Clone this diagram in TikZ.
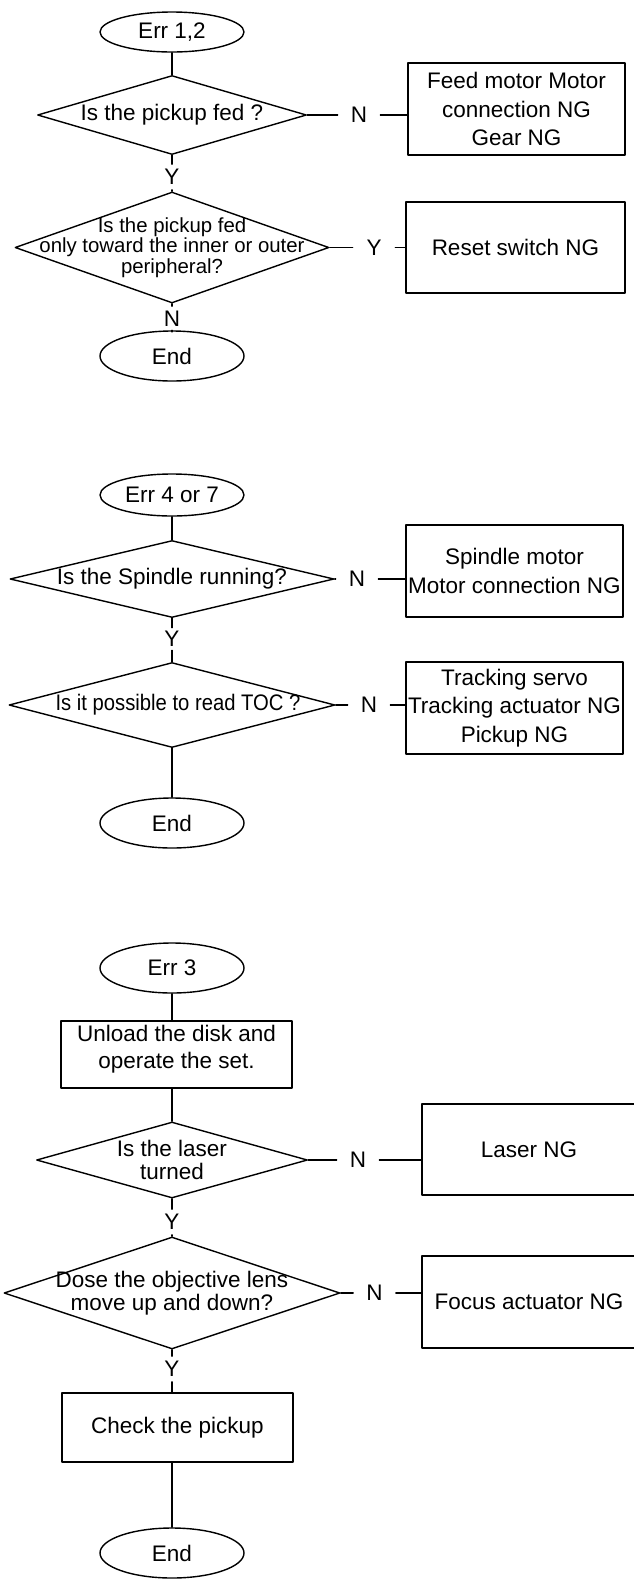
\documentclass[tikz,border=0pt]{standalone}
\usepackage{fontspec}
\setmainfont{Liberation Sans}
\usetikzlibrary{shapes.geometric}
\begin{document}
\begin{tikzpicture}[x=1cm,y=1cm,line cap=round,line join=round,
  terminal/.style={draw,ellipse,line width=0.8pt,minimum width=2.88cm,minimum height=1cm,inner sep=0pt,font=\fontsize{12.8}{15}\selectfont},
  decision/.style={draw,diamond,line width=0.8pt,inner sep=0pt},
  query/.style={align=center,inner sep=0pt,font=\fontsize{12.8}{13.1}\selectfont},
  process/.style={draw,rectangle,line width=0.8pt,inner sep=0pt,align=center,minimum width=4.34cm,minimum height=1.84cm,font=\fontsize{12.8}{16.2}\selectfont},
  tag/.style={inner sep=0pt,minimum width=0.84cm,minimum height=0.5cm,font=\fontsize{12.8}{15}\selectfont},
  link/.style={line width=0.8pt}]
  \useasboundingbox (0,0) rectangle (12.68,-31.74);

  \node[terminal,minimum height=0.8cm] (err12) at (3.44,-0.64) {Err 1,2};
  \node[decision,minimum width=5.38cm,minimum height=1.58cm] (d1) at (3.44,-2.30) {};
  \node[query] (d1t) at (d1) {Is the pickup fed ?};
  \node[tag] (n1) at (7.18,-2.30) {N};
  \node[process] (b1) at (10.33,-2.18) {Feed motor Motor\\connection NG\\Gear NG};
  \node[tag] (y1) at (3.44,-3.54) {Y};
  \node[decision,minimum width=6.28cm,minimum height=2.22cm] (d2) at (3.44,-4.95) {};
  \node[query,font=\fontsize{11.6}{11.6}\selectfont] (d2t) at (d2) {Is the pickup fed\\only toward the inner or outer\\peripheral?};
  \node[tag] (y2) at (7.48,-4.95) {Y};
  \node[process,minimum width=4.38cm,minimum height=1.82cm] (b2) at (10.31,-4.95) {Reset switch NG};
  \node[tag] (n2) at (3.44,-6.38) {N};
  \node[terminal] (end1) at (3.44,-7.12) {End};
  \draw[link] (err12) -- (d1);
  \draw[link] (d1) -- (n1);
  \draw[link] (n1) -- (n1 -| b1.west);
  \draw[link] (d1) -- (y1);
  \draw[link] (y1) -- (d2);
  \draw[link] (d2) -- (y2);
  \draw[link] (y2) -- (y2 -| b2.west);
  \draw[link] (d2) -- (n2);
  \draw[link] (n2) -- (end1);

  \node[terminal,minimum height=0.84cm] (err47) at (3.44,-9.90) {Err 4 or 7};
  \node[decision,minimum width=6.48cm,minimum height=1.54cm] (d3) at (3.44,-11.58) {};
  \node[query] (d3t) at (d3) {Is the Spindle running?};
  \node[tag] (n3) at (7.14,-11.58) {N};
  \node[process] (b3) at (10.29,-11.42) {Spindle motor\\Motor connection NG};
  \node[tag,minimum height=0.44cm] (y3) at (3.44,-12.78) {Y};
  \node[decision,minimum width=6.52cm,minimum height=1.70cm] (d4) at (3.44,-14.10) {};
  \node[query,xscale=0.9,transform shape] (d4t) at ([xshift=0.12cm]d4) {Is it possible to read TOC ?};
  \node[tag] (n4) at (7.38,-14.10) {N};
  \node[process] (b4) at (10.29,-14.16) {Tracking servo\\Tracking actuator NG\\Pickup NG};
  \node[terminal] (end2) at (3.44,-16.46) {End};
  \draw[link] (err47) -- (d3);
  \draw[link] (d3) -- (n3);
  \draw[link] (n3) -- (n3 -| b3.west);
  \draw[link] (d3) -- (y3);
  \draw[link] (y3) -- (d4);
  \draw[link] (d4) -- (n4);
  \draw[link] (n4) -- (n4 -| b4.west);
  \draw[link] (d4) -- (end2);

  \node[terminal] (err3) at (3.44,-19.36) {Err 3};
  \node[process,minimum width=4.62cm,minimum height=1.34cm] (b5) at (3.53,-21.09) {};
  \node[align=center,inner sep=0pt,font=\fontsize{12.8}{15.4}\selectfont] (b5t) at ([yshift=0.1cm]b5) {Unload the disk and\\operate the set.};
  \node[decision,minimum width=5.42cm,minimum height=1.52cm] (d5) at (3.44,-23.20) {};
  \node[query] (d5t) at (d5) {Is the laser\\turned};
  \node[tag] (n5) at (7.16,-23.20) {N};
  \node[process,minimum width=4.28cm,minimum height=1.82cm] (b6) at (10.58,-22.99) {Laser NG};
  \node[tag] (y5) at (3.44,-24.44) {Y};
  \node[decision,minimum width=6.72cm,minimum height=2.24cm] (d6) at (3.44,-25.86) {};
  \node[query] (d6t) at (d6) {Dose the objective lens\\move up and down?};
  \node[tag] (n6) at (7.49,-25.86) {N};
  \node[process,minimum width=4.28cm] (b7) at (10.58,-26.04) {Focus actuator NG};
  \node[tag] (y6) at (3.44,-27.38) {Y};
  \node[process,minimum width=4.62cm,minimum height=1.38cm] (b8) at (3.55,-28.55) {Check the pickup};
  \node[terminal] (end3) at (3.44,-31.06) {End};
  \draw[link] (err3) -- (err3 |- b5.north);
  \draw[link] (b5.south -| err3) -- (d5);
  \draw[link] (d5) -- (n5);
  \draw[link] (n5) -- (n5 -| b6.west);
  \draw[link] (d5) -- (y5);
  \draw[link] (y5) -- (d6);
  \draw[link] (d6) -- (n6);
  \draw[link] (n6) -- (n6 -| b7.west);
  \draw[link] (d6) -- (y6);
  \draw[link] (y6) -- (y6 |- b8.north);
  \draw[link] (b8.south -| end3) -- (end3);
\end{tikzpicture}
\end{document}
